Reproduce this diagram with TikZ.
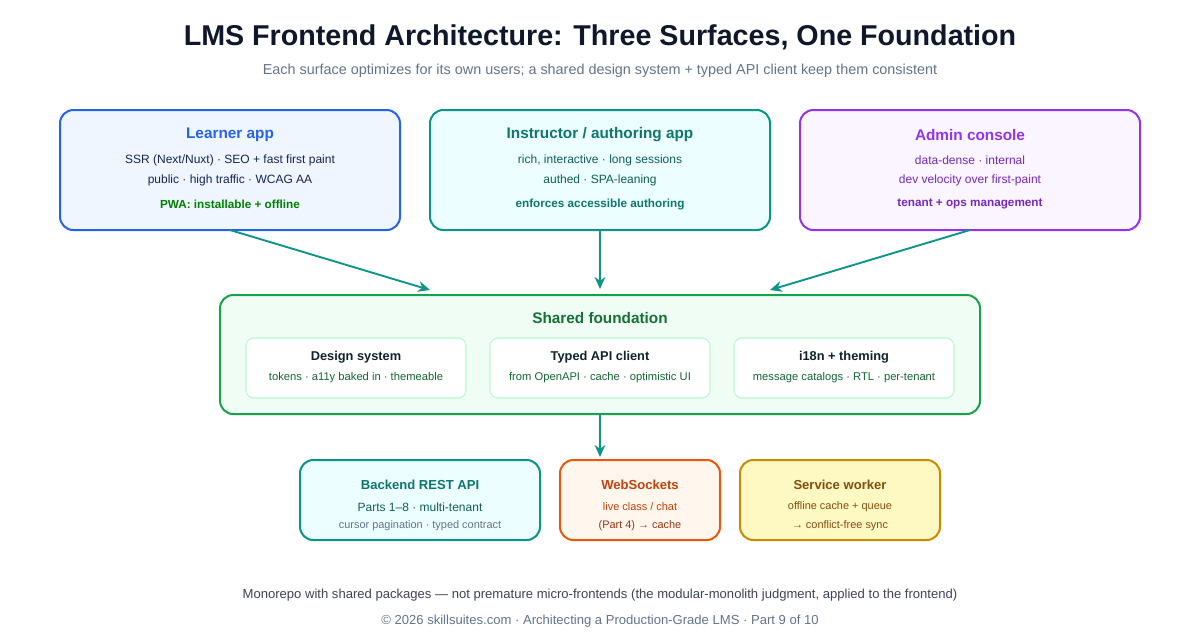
\documentclass[tikz,border=0pt]{standalone}
\usepackage{fontspec}
\setmainfont{Liberation Sans}
\usetikzlibrary{arrows.meta}
\definecolor{ink}{HTML}{0F172A}
\definecolor{gray}{HTML}{64748B}
\definecolor{blueC}{HTML}{2563EB}\definecolor{blueF}{HTML}{EFF6FF}
\definecolor{tealC}{HTML}{0D9488}\definecolor{tealF}{HTML}{ECFEFF}
\definecolor{purC}{HTML}{9333EA}\definecolor{purF}{HTML}{FAF5FF}
\definecolor{grnC}{HTML}{16A34A}\definecolor{grnF}{HTML}{F0FDF4}\definecolor{grnL}{HTML}{BBF7D0}\definecolor{grnT}{HTML}{166534}
\definecolor{orC}{HTML}{EA580C}\definecolor{orF}{HTML}{FFF7ED}\definecolor{orT}{HTML}{C2410C}\definecolor{orB}{HTML}{9A3412}
\definecolor{amC}{HTML}{CA8A04}\definecolor{amF}{HTML}{FEF9C3}\definecolor{amT}{HTML}{854D0E}
\definecolor{tealT}{HTML}{0F766E}\definecolor{tealB}{HTML}{115E59}
\begin{document}
\begin{tikzpicture}[x=0.75pt,y=-0.75pt,
 box/.style={draw=#1,line width=1.5pt,rounded corners=10pt},
 inbox/.style={draw=grnL,fill=white,line width=0.8pt,rounded corners=6pt},
 ttl/.style={font=\fontsize{11.5}{13}\selectfont\bfseries},
 bdy/.style={font=\fontsize{9}{10}\selectfont},
 arr/.style={draw=tealC,line width=1.4pt,-{Stealth[length=9pt,width=8pt]}}]
\useasboundingbox (0,0) rectangle (1200,640);
\fill[white] (0,0) rectangle (1200,640);
\node[font=\fontsize{21.5}{24}\selectfont\bfseries,text=ink] (title) at (600,37) {LMS Frontend Architecture: Three Surfaces, One Foundation};
\node[font=\fontsize{10.8}{12}\selectfont,text=gray] (sub) at (600,71) {Each surface optimizes for its own users; a shared design system + typed API client keep them consistent};
% top boxes
\draw[box=blueC,fill=blueF] (60,110) rectangle (400,230);
\node[ttl,text=blueC] (l1) at (230,135) {Learner app};
\node[bdy,text=ink!80!blueC] (l2) at (230,160) {SSR (Next/Nuxt) · SEO + fast first paint};
\node[bdy,text=ink!80!blueC] (l3) at (230,180) {public · high traffic · WCAG AA};
\node[font=\fontsize{8.8}{10}\selectfont\bfseries,text=green!50!black] (l4) at (230,204) {PWA: installable + offline};
\draw[box=tealC,fill=tealF] (430,110) rectangle (770,230);
\node[ttl,text=tealT] (i1) at (600,135) {Instructor / authoring app};
\node[bdy,text=tealB] (i2) at (600,160) {rich, interactive · long sessions};
\node[bdy,text=tealB] (i3) at (600,180) {authed · SPA-leaning};
\node[font=\fontsize{8.8}{10}\selectfont\bfseries,text=tealT] (i4) at (600,204) {enforces accessible authoring};
\draw[box=purC,fill=purF] (800,110) rectangle (1140,230);
\node[ttl,text=purC] (a1) at (970,135) {Admin console};
\node[bdy,text=purC!80!black] (a2) at (970,160) {data-dense · internal};
\node[bdy,text=purC!80!black] (a3) at (970,180) {dev velocity over first-paint};
\node[font=\fontsize{8.8}{10}\selectfont\bfseries,text=purC!80!black] (a4) at (970,204) {tenant + ops management};
\coordinate (lbot) at (230,230); \coordinate (ibot) at (600,230); \coordinate (abot) at (970,230);
% shared
\draw[box=grnC,fill=grnF] (220,295) rectangle (980,414);
\node[ttl,text=grnT!80!grnC] (s1) at (600,318) {Shared foundation};
\foreach \cx/\t/\b/\n in {356/Design system/tokens · a11y baked in · themeable/d,600/Typed API client/from OpenAPI · cache · optimistic UI/t,844/i18n + theming/message catalogs · RTL · per-tenant/i}{
 \draw[inbox] (\cx-110,338) rectangle (\cx+110,398);
 \node[font=\fontsize{9.6}{11}\selectfont\bfseries,text=ink!85!grnT] (\n1) at (\cx,357) {\t};
 \node[font=\fontsize{8.4}{10}\selectfont,text=grnT] (\n2) at (\cx,378) {\b};}
\coordinate (stl) at (430,290); \coordinate (stm) at (600,289); \coordinate (str) at (770,290);
\coordinate (sbot) at (600,414); \coordinate (btop) at (600,457);
\draw[arr] (lbot) -- (stl);
\draw[arr] (ibot) -- (stm);
\draw[arr] (abot) -- (str);
\draw[arr] (sbot) -- (btop);
% bottom
\draw[box=tealC,fill=tealF] (300,460) rectangle (540,540);
\node[font=\fontsize{9.8}{11}\selectfont\bfseries,text=tealT] (b1) at (420,485) {Backend REST API};
\node[bdy,text=tealB] (b2) at (420,507) {Parts 1–8 · multi-tenant};
\node[font=\fontsize{8.2}{10}\selectfont,text=gray] (b3) at (420,526) {cursor pagination · typed contract};
\draw[box=orC,fill=orF] (560,460) rectangle (720,540);
\node[font=\fontsize{9.8}{11}\selectfont\bfseries,text=orT] (w1) at (640,485) {WebSockets};
\node[font=\fontsize{8.2}{10}\selectfont,text=orT] (w2) at (640,507) {live class / chat};
\node[font=\fontsize{8.2}{10}\selectfont,text=orB] (w3) at (640,526) {(Part 4) → cache};
\draw[box=amC,fill=amF] (740,460) rectangle (940,540);
\node[font=\fontsize{9.8}{11}\selectfont\bfseries,text=amT] (v1) at (840,485) {Service worker};
\node[font=\fontsize{8.2}{10}\selectfont,text=amT] (v2) at (840,507) {offline cache + queue};
\node[font=\fontsize{8.2}{10}\selectfont,text=amT] (v3) at (840,526) {→ conflict-free sync};
\node[font=\fontsize{9.8}{11}\selectfont,text=ink!80] (f1) at (600,595) {Monorepo with shared packages — not premature micro-frontends (the modular-monolith judgment, applied to the frontend)};
\node[font=\fontsize{9.8}{11}\selectfont,text=gray] (f2) at (600,621) {© 2026 skillsuites.com · Architecting a Production-Grade LMS · Part 9 of 10};
\end{tikzpicture}
\end{document}
